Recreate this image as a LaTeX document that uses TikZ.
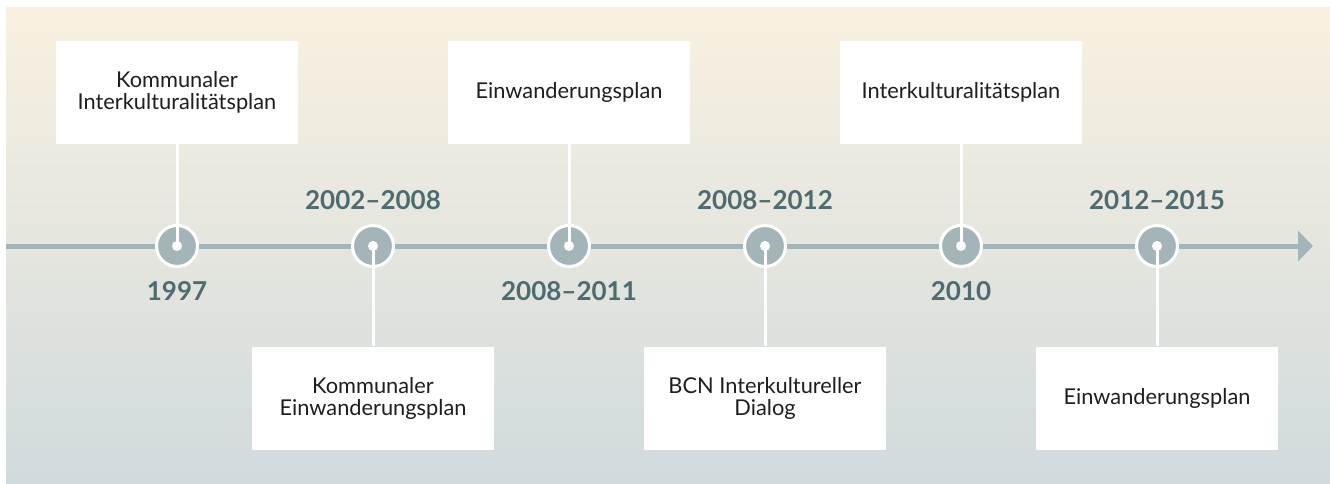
\documentclass[tikz,border=0pt]{standalone}
\usepackage{fontspec}
\setmainfont{Lato}
\usetikzlibrary{arrows.meta,positioning}
\definecolor{bgtop}{HTML}{F9F1E0}
\definecolor{bgbot}{HTML}{D0DADD}
\definecolor{lngray}{HTML}{A4B5BA}
\definecolor{yrslate}{HTML}{4F6B72}
\definecolor{txdark}{HTML}{1E1E1E}

\tikzset{
  tlbox/.style={fill=white,minimum width=121pt,minimum height=51.5pt,inner sep=0pt,
    align=center,text=txdark,font=\fontsize{10.9pt}{11pt}\selectfont},
  tlstop/.style={circle,fill=lngray,draw=white,line width=1.5pt,minimum size=20.5pt,inner sep=0pt},
  yearlbl/.style={text=yrslate,font=\fontsize{13pt}{15pt}\selectfont\bfseries},
  tlstem/.style={white,line width=1.5pt}
}

\begin{document}
\begin{tikzpicture}[x=0.5pt,y=-0.5pt]

  % canvas and soft background
  \useasboundingbox (0,0) rectangle (1330,483);
  \fill[white] (0,0) rectangle (1330,483);
  \shade[top color=bgtop,bottom color=bgbot] (6,7) rectangle (1330,483);

  % time axis
  \coordinate (axstart) at (6,246);
  \coordinate (axend) at (1313,246);
  \draw[lngray,line width=2.5pt,-{Triangle[length=7.5pt,width=15pt]}] (axstart) -- (axend);

  % stops on the axis
  \node[tlstop] (s1) at (177,246) {};
  \node[tlstop] (s2) at (373,246) {};
  \node[tlstop] (s3) at (569,246) {};
  \node[tlstop] (s4) at (765,246) {};
  \node[tlstop] (s5) at (961,246) {};
  \node[tlstop] (s6) at (1157,246) {};

  % years, alternating below / above
  \node[yearlbl] (y1) at (177,291) {1997};
  \node[yearlbl] (y2) at (373,200) {2002--2008};
  \node[yearlbl] (y3) at (569,291) {2008--2011};
  \node[yearlbl] (y4) at (765,200) {2008--2012};
  \node[yearlbl] (y5) at (961,291) {2010};
  \node[yearlbl] (y6) at (1157,200) {2012--2015};

  % plan boxes, alternating above / below
  \node[tlbox] (p1) at (177,92.5) {Kommunaler\\Interkulturalitätsplan};
  \node[tlbox] (p2) at (373,398) {Kommunaler\\Einwanderungsplan};
  \node[tlbox] (p3) at (569,92.5) {Einwanderungsplan};
  \node[tlbox] (p4) at (765,398) {BCN Interkultureller\\Dialog};
  \node[tlbox] (p5) at (961,92.5) {Interkulturalitätsplan};
  \node[tlbox] (p6) at (1157,398) {Einwanderungsplan};

  % stems from boxes into the stops
  \draw[tlstem] (p1.south) -- (s1.center);
  \draw[tlstem] (p2.north) -- (s2.center);
  \draw[tlstem] (p3.south) -- (s3.center);
  \draw[tlstem] (p4.north) -- (s4.center);
  \draw[tlstem] (p5.south) -- (s5.center);
  \draw[tlstem] (p6.north) -- (s6.center);

  % white centre dots
  \foreach \s in {s1,s2,s3,s4,s5,s6} {
    \fill[white] (\s.center) circle (2.5pt);
  }

\end{tikzpicture}
\end{document}
